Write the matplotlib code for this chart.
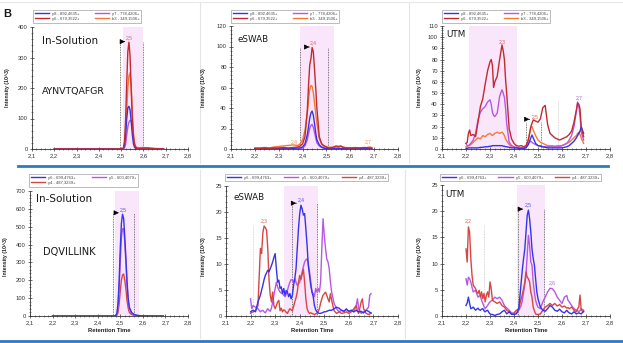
import matplotlib
matplotlib.use('Agg')
import matplotlib.pyplot as plt
from matplotlib.ticker import AutoMinorLocator
from matplotlib import font_manager
from matplotlib.lines import Line2D

# ---------------- data ----------------
xticks = [2.1, 2.2, 2.3, 2.4, 2.5, 2.6, 2.7, 2.8]
xtick_labels = ['2,1', '2,2', '2,3', '2,4', '2,5', '2,6', '2,7', '2,8']

top_labels = ['y8 - 892,4635+', 'y6 - 679,3522+', 'y7 - 778,4206+', 'b3 - 349,1506+']
bot_labels = ['y6 - 699,4763+', 'y5 - 600,4079+', 'y4 - 487,3239+']

# Panel 1: AYNVTQAFGR, In-Solution
x1 = [2.20, 2.25, 2.30, 2.35, 2.40, 2.45, 2.49, 2.50, 2.51, 2.515, 2.52, 2.525, 2.53,
      2.535, 2.54, 2.545, 2.55, 2.555, 2.56, 2.565, 2.57, 2.58, 2.60, 2.62, 2.65, 2.69]
p1_y8 = [0, 0, 0, 0, 0, 0, 0, 0.5, 2, 10, 45, 100, 135, 140, 128, 92, 48, 18, 6, 2, 1, 0.5, 0, 0, 0, 0]
p1_y6 = [0, 0, 0, 0, 0, 0, 0, 0.5, 3, 25, 95, 215, 320, 350, 305, 200, 100, 40, 15, 6, 3, 2, 3, 3, 1, 0]
p1_y7 = [0, 0, 0, 0, 0, 0, 0, 0, 1, 4, 16, 45, 73, 88, 94, 93, 70, 35, 12, 4, 2, 1, 0, 0, 0, 0]
p1_b3 = [0, 0, 0, 0, 0, 0, 0, 0.5, 2, 12, 50, 125, 200, 240, 250, 205, 125, 55, 20, 9, 5, 4, 5, 4, 2, 1]

# Panel 2: AYNVTQAFGR, eSWAB
x2 = [2.20, 2.22, 2.24, 2.26, 2.28, 2.30, 2.32, 2.34, 2.36, 2.38, 2.39, 2.40, 2.41, 2.42,
      2.425, 2.43, 2.435, 2.44, 2.445, 2.45, 2.455, 2.46, 2.47, 2.48, 2.49, 2.50, 2.51,
      2.52, 2.53, 2.54, 2.55, 2.56, 2.57, 2.58, 2.60, 2.62, 2.64, 2.66, 2.68, 2.69]
p2_y8 = [0.5, 0.5, 0.5, 0.5, 0.5, 0.5, 0.5, 0.5, 0.5, 1, 1, 2, 5, 14, 22, 30, 35, 37, 33, 25,
         16, 9, 4, 2, 1, 0.5, 0.5, 0.5, 0.5, 0.5, 0.5, 0.5, 0.5, 0.5, 0.5, 0.5, 0.5, 0.5, 0.5, 0.5]
p2_y6 = [0.5, 0.5, 1, 0.5, 1, 1, 1.5, 1, 1.5, 2, 3, 5, 12, 38, 62, 82, 88, 99, 95, 78,
         60, 40, 12, 5, 3, 2, 1, 1, 2, 3, 2.5, 3, 1.5, 1, 1, 1, 1, 1.5, 1, 1]
p2_y7 = [0.3, 0.3, 0.3, 0.3, 0.3, 0.3, 0.3, 0.3, 0.3, 0.3, 0.5, 1, 3, 9, 15, 20, 23, 24, 21, 16,
         11, 6, 3, 1.5, 0.8, 0.3, 0.3, 0.3, 0.3, 0.3, 0.3, 0.3, 0.3, 0.3, 0.3, 0.3, 0.3, 0.3, 0.3, 0.3]
p2_b3 = [1, 1, 1.5, 1, 2, 2.5, 3, 3.5, 4, 3.5, 5, 9, 18, 35, 48, 58, 62, 61, 55, 45,
         35, 25, 10, 5, 3, 2, 1.5, 2, 1, 2, 1.5, 2.5, 2, 1.5, 1, 1.5, 1, 1, 2, 1.5]

# Panel 3: AYNVTQAFGR, UTM
x3 = [2.20, 2.205, 2.21, 2.215, 2.22, 2.23, 2.24, 2.25, 2.26, 2.27, 2.28, 2.29, 2.30, 2.305,
      2.31, 2.315, 2.32, 2.33, 2.34, 2.35, 2.355, 2.36, 2.365, 2.37, 2.38, 2.39, 2.40, 2.41,
      2.42, 2.43, 2.44, 2.45, 2.46, 2.47, 2.475, 2.48, 2.49, 2.50, 2.51, 2.52, 2.53, 2.54,
      2.55, 2.56, 2.57, 2.58, 2.59, 2.60, 2.61, 2.62, 2.63, 2.64, 2.65, 2.66, 2.665, 2.67,
      2.675, 2.68, 2.69]
p3_y8 = [0.5, 0.5, 1, 1, 1, 1, 1, 1, 1.5, 1.5, 2, 2, 2.5, 2.5, 3, 3, 3, 3, 3, 3, 2.5, 2.5, 2, 2,
         1.5, 1, 1, 1, 0.5, 0.5, 0.5, 1, 4, 10, 12.5, 10, 5, 3, 2.5, 2, 1.5, 1, 1, 1, 1, 1, 1,
         1, 1.5, 2, 3, 5, 7, 10, 12, 14, 16, 20, 14]
p3_y6 = [5, 6, 14, 17, 12, 13, 11, 24, 38, 45, 58, 70, 78, 80, 75, 55, 60, 65, 80, 93, 88, 80,
         62, 48, 18, 9, 5, 3, 2.5, 3, 2, 3, 8, 20, 23, 26, 25, 24, 27, 37, 39, 22, 14, 12, 10, 9,
         8, 9, 10, 11, 13, 16, 24, 35, 41, 40, 36, 20, 11]
p3_y7 = [5, 3, 3, 4, 5, 8, 14, 26, 33, 36, 38, 42, 44, 40, 33, 30, 29, 32, 47, 53, 50, 46, 36,
         22, 6, 3, 2, 1.5, 1, 1, 1, 2, 5, 7, 6, 5, 4, 3, 3, 2, 2, 2, 2, 2, 2, 2, 2, 3, 4, 5, 8,
         12, 20, 34, 42, 38, 30, 15, 8]
p3_b3 = [2, 2, 3, 3, 4, 6, 8, 10, 9, 12, 11, 13, 14, 13, 12, 13, 14, 15, 14, 15, 14, 12, 9, 7,
         4, 2, 1.5, 1, 1, 1, 1, 2, 9, 19, 20, 17, 12, 8, 6, 5, 4, 3, 3, 3, 2.5, 3, 3, 3, 4, 5, 6,
         8, 10, 12, 14, 15, 13, 10, 5]

# Panel 4: DQVILLINK, In-Solution
x4 = [2.20, 2.25, 2.30, 2.35, 2.40, 2.45, 2.47, 2.48, 2.485, 2.49, 2.495, 2.50, 2.505, 2.51,
      2.515, 2.52, 2.525, 2.53, 2.535, 2.54, 2.55, 2.56, 2.57, 2.58, 2.60, 2.65, 2.69]
p4_y6 = [0, 0, 0, 0, 0, 0, 0, 3, 15, 70, 200, 380, 520, 570, 545, 440, 320, 190, 100, 50, 20,
         10, 5, 3, 1, 0, 0]
p4_y5 = [0, 0, 0, 0, 0, 0, 0, 2, 10, 50, 160, 310, 440, 488, 490, 410, 300, 170, 85, 40, 15,
         7, 3, 2, 1, 0, 0]
p4_y4 = [0, 0, 0, 0, 0, 0, 0, 1, 4, 20, 70, 140, 200, 230, 235, 200, 150, 85, 45, 20, 8, 4,
         2, 1, 0, 0, 0]

# Panel 5: DQVILLINK, eSWAB
x5 = [2.20, 2.205, 2.21, 2.22, 2.23, 2.24, 2.245, 2.25, 2.255, 2.26, 2.265, 2.27, 2.275, 2.28,
      2.285, 2.29, 2.295, 2.30, 2.305, 2.31, 2.315, 2.32, 2.325, 2.33, 2.335, 2.34, 2.345,
      2.35, 2.355, 2.36, 2.365, 2.37, 2.375, 2.38, 2.385, 2.39, 2.395, 2.40, 2.405, 2.41,
      2.415, 2.42, 2.425, 2.43, 2.435, 2.44, 2.445, 2.45, 2.455, 2.46, 2.465, 2.47, 2.475,
      2.48, 2.485, 2.49, 2.495, 2.50, 2.505, 2.51, 2.515, 2.52, 2.525, 2.53, 2.54, 2.55, 2.56,
      2.57, 2.58, 2.59, 2.60, 2.61, 2.62, 2.63, 2.635, 2.64, 2.65, 2.655, 2.66, 2.67, 2.68,
      2.685, 2.69]
p5_y6 = [0.8, 1, 1.1, 0.8, 2.7, 4, 5, 5.9, 7, 7.8, 8.3, 8.8, 8.5, 9.1, 9.7, 10.4, 11.3, 12,
         9.1, 6.5, 6.9, 5.3, 5.6, 4.3, 5.3, 4, 4.9, 4.6, 3.7, 4.3, 3.3, 4, 5.9, 7.2, 9.1, 13,
         16.8, 19.7, 21.3, 20.6, 19.4, 19.7, 16.8, 13.6, 9.7, 7.8, 5.9, 4.6, 3.7, 2, 1.2, 0.8,
         0.6, 0.5, 0.5, 0.6, 0.7, 0.8, 0.8, 0.9, 1, 1.1, 1.1, 1.1, 1.4, 1.7, 1.5, 1.1, 0.9,
         1.3, 0.9, 1.1, 0.8, 1.1, 0.9, 0.8, 0.9, 0.7, 0.6, 1.1, 0.9, 0.7, 0.6]
p5_y5 = [3.3, 1.4, 2, 1.7, 1.4, 0.8, 1, 1.1, 0.8, 0.6, 1, 1.4, 1.1, 0.9, 1.5, 2.7, 4, 5.3,
         6.5, 5.6, 5, 4.6, 4.4, 4.3, 4, 3.7, 4.2, 4.9, 5.8, 6.5, 7, 6.9, 6.5, 7.2, 6.5, 5.9,
         6.2, 6.5, 7.5, 8.5, 9.5, 10.4, 10.8, 11, 10, 8.5, 6.5, 4.6, 4.3, 3.7, 5.3, 4.6, 5.3,
         4.6, 6.5, 13, 18.7, 15.5, 13, 11, 10.4, 9.1, 6.5, 4.6, 2.4, 1.4, 0.8, 1.1, 0.9, 1.4,
         0.8, 1.1, 0.8, 2, 3.3, 1.4, 0.5, 0.7, 0.8, 1.1, 1.7, 4, 4.3]
p5_y4 = [0.5, 0.7, 0.8, 1, 2, 13, 12, 16, 17.3, 17, 16.5, 13, 7, 4, 2.7, 4.6, 2, 1.4, 2, 2.7,
         3, 1, 1.5, 0.8, 1.2, 1, 0.7, 0.5, 1, 1.4, 1.2, 1, 1.8, 2.7, 3.5, 4.6, 6.5, 7.8, 7,
         8, 9, 6.5, 3.3, 1.4, 0.8, 0.5, 0.6, 0.5, 0.4, 0.3, 0.4, 0.5, 0.8, 1.4, 2.5, 3.3, 4,
         4.3, 4.6, 4, 3.3, 2.7, 4.3, 3, 1, 0.5, 0.8, 0.5, 0.6, 0.8, 0.5, 0.8, 1.4, 2, 1, 0.5,
         2.7, 3.3, 1.4, 0.5, 0.3, 0.4, 0.5]

# Panel 6: DQVILLINK, UTM
x6 = [2.20, 2.205, 2.21, 2.215, 2.22, 2.225, 2.23, 2.24, 2.245, 2.25, 2.255, 2.26, 2.265, 2.27,
      2.275, 2.28, 2.285, 2.29, 2.295, 2.30, 2.305, 2.31, 2.32, 2.33, 2.34, 2.35, 2.36, 2.37,
      2.38, 2.39, 2.40, 2.41, 2.42, 2.43, 2.435, 2.44, 2.445, 2.45, 2.455, 2.46, 2.465, 2.47,
      2.475, 2.48, 2.485, 2.49, 2.495, 2.50, 2.51, 2.52, 2.53, 2.54, 2.55, 2.56, 2.57, 2.58,
      2.59, 2.60, 2.61, 2.62, 2.625, 2.63, 2.64, 2.65, 2.66, 2.665, 2.67, 2.675, 2.68, 2.69]
p6_y6 = [2, 2.5, 3.6, 2.4, 1.4, 1.5, 1.7, 1.1, 1.3, 1.5, 1.2, 1.1, 1.3, 1.4, 1, 0.8, 1, 1.1,
         0.7, 0.4, 0.3, 0.3, 0.1, 0.3, 0.4, 0.8, 1.1, 0.4, 0.8, 0.3, 0.3, 0.4, 1.4, 6.5, 9, 11,
         12.8, 16, 19.2, 20.2, 18.6, 16, 12.8, 11, 9.7, 7.1, 4.6, 3.3, 1.7, 1.1, 0.9, 1.4, 2,
         1.7, 1.1, 0.9, 1.3, 0.8, 0.6, 1.1, 0.8, 0.6, 0.4, 0.8, 0.4, 0.5, 0.6, 0.5, 0.4, 0.9]
p6_y5 = [7.1, 5.9, 7.4, 7.1, 6.5, 5.5, 4.6, 4.9, 4.2, 3.6, 3.8, 3.9, 3, 2.4, 1.8, 1.4, 1.7, 2,
         2.4, 2.7, 2.9, 3, 3.6, 3.3, 3.6, 3, 2, 1.5, 1.1, 0.6, 0.4, 0.6, 1.1, 2, 3, 4.6, 6, 7.8,
         11.6, 15.4, 13.5, 10.3, 9.7, 6.5, 4.5, 3, 2.2, 1.7, 1.4, 2.7, 3.6, 4.6, 5.3, 5.2, 4.6,
         3.6, 3, 2.4, 3.6, 3.9, 3, 2.7, 2, 1.4, 1.1, 1, 0.8, 1, 1.4, 1.1]
p6_y4 = [12.8, 10.3, 17, 16, 11, 7.8, 5.9, 5.2, 4.6, 4.3, 4.9, 3.6, 4.6, 3.3, 4.3, 2.7, 4, 4.6,
         3.6, 6.5, 5.2, 3, 2.7, 2.4, 2.7, 2, 1.7, 1.1, 0.8, 0.4, 0.6, 1.1, 1.4, 3.3, 4.2, 5.2,
         6.5, 8.4, 7.4, 7.1, 6.5, 4.6, 3.6, 1.7, 1, 0.4, 0.3, 0.3, 0.4, 1.1, 1.7, 2, 2.4, 2,
         2.4, 1.9, 2.2, 1.7, 1.9, 1.5, 1.6, 1.4, 1.7, 1.1, 0.8, 1.4, 1.7, 4, 1.1, 0.8]

yticks1 = [0, 100, 200, 300, 400]
yticks2 = [0, 20, 40, 60, 80, 100, 120]
yticks3 = [0, 10, 20, 30, 40, 50, 60, 70, 80, 90, 100, 110]
yticks4 = [0, 100, 200, 300, 400, 500, 600, 700]
yticks5 = [0, 5, 10, 15, 20, 25]
yticks6 = [0, 5, 10, 15, 20, 25]

# ---------------- style ----------------
BLUE = '#3434ec'
DRED = '#c22a30'
PURP = '#b658e4'
ORNG = '#f47a35'
RED = '#d84545'
PINK = '#fae6fa'

names = {f.name for f in font_manager.fontManager.ttflist}
NARROW = 'Liberation Sans Narrow' if 'Liberation Sans Narrow' in names else 'DejaVu Sans'
SCALE = 1.0 if NARROW == 'Liberation Sans Narrow' else 0.75
plt.rcParams['font.family'] = ['Liberation Sans', 'DejaVu Sans']

W, H = 623, 343
fig = plt.figure(figsize=(W / 100, H / 100), dpi=100)
fig.patch.set_facecolor('white')


def fx(px):
    return px / W


def fy(py):
    return 1 - py / H


def make_ax(l, r, t, b):
    return fig.add_axes([fx(l), fy(b), (r - l) / W, (b - t) / H])


def style(ax, yt):
    ax.set_xlim(2.1, 2.8)
    ax.set_ylim(0, yt[-1])
    ax.set_xticks(xticks)
    ax.set_xticklabels(xtick_labels)
    ax.set_yticks(yt)
    ax.xaxis.set_minor_locator(AutoMinorLocator(5))
    ax.yaxis.set_minor_locator(AutoMinorLocator(5))
    for s in ['top', 'right']:
        ax.spines[s].set_visible(False)
    for s in ['left', 'bottom']:
        ax.spines[s].set_linewidth(0.6)
        ax.spines[s].set_color('#333333')
    ax.tick_params(which='major', direction='inout', length=3, width=0.5,
                   labelsize=4.2, pad=1.5, colors='#333333')
    ax.tick_params(which='minor', direction='inout', length=1.6, width=0.4, colors='#333333')
    ax.set_facecolor('none')


def ylabel(px, py):
    fig.text(fx(px), fy(py), 'Intensity (10^3)', rotation=90, fontsize=3.8,
             fontweight='bold', ha='center', va='center', color='#222222')


def xlabel(ax):
    ax.set_xlabel('Retention Time', fontsize=4.2, fontweight='bold', labelpad=2, color='#222222')


def legend(ax, colors, labels, ncol, left, top, colsp):
    hs = [Line2D([], [], color=c, lw=1.0) for c in colors]
    leg = ax.legend(hs, labels, ncol=ncol, loc='upper left',
                    bbox_to_anchor=(fx(left), fy(top)), bbox_transform=fig.transFigure,
                    fontsize=3.0, frameon=True, fancybox=False, borderpad=0.4,
                    borderaxespad=0, handlelength=3.4, handletextpad=0.8,
                    columnspacing=colsp, labelspacing=0.3)
    leg.get_frame().set_edgecolor('#8a8a8a')
    leg.get_frame().set_linewidth(0.5)
    for t in leg.get_texts():
        t.set_color('#444444')


def dotted(ax, xs, h, color='#555555'):
    ax.vlines(xs, 0, h, colors=color, linestyles=(0, (1, 1)), lw=0.6, zorder=1)


def arrow(ax, x0, x1, y):
    ax.annotate('', xy=(x1, y), xytext=(x0, y),
                arrowprops=dict(arrowstyle='-|>,head_length=0.6,head_width=0.3',
                                mutation_scale=5, color='black', lw=0.5))


def plabel(ax, x, y, s, c):
    ax.text(x, y, s, fontsize=3.6, color=c, ha='center', va='bottom')


def big(px, py, s, size):
    fig.text(fx(px), fy(py), s, fontsize=size * SCALE, family=[NARROW, 'DejaVu Sans'],
             ha='left', va='baseline', color='#1a1a1a')


LW = 1.0

# ---- Panel 1 ----
ax = make_ax(32, 188, 27, 149)
style(ax, yticks1)
ax.axvspan(2.51, 2.6, color=PINK, lw=0, zorder=0)
dotted(ax, [2.497, 2.6], 350)
ax.plot(x1, p1_y7, color=PURP, lw=LW)
ax.plot(x1, p1_b3, color=ORNG, lw=LW)
ax.plot(x1, p1_y8, color=BLUE, lw=LW)
ax.plot(x1, p1_y6, color=DRED, lw=LW)
plabel(ax, 2.537, 356, '2,5', '#e06060')
arrow(ax, 2.499, 2.53, 352)
legend(ax, [BLUE, DRED, PURP, ORNG], top_labels, 2, 33, 10, 3.6)
ylabel(8, 88)

# ---- Panel 2 ----
ax = make_ax(231, 398, 26, 149)
style(ax, yticks2)
ax.axvspan(2.39, 2.53, color=PINK, lw=0, zorder=0)
dotted(ax, [2.388, 2.505], 98.5)
ax.plot(x2, p2_y7, color=PURP, lw=LW)
ax.plot(x2, p2_b3, color=ORNG, lw=LW)
ax.plot(x2, p2_y8, color=BLUE, lw=LW)
ax.plot(x2, p2_y6, color=DRED, lw=LW)
plabel(ax, 2.445, 101, '2,4', '#e06060')
plabel(ax, 2.367, 4.5, '2,4', '#f08a5a')
plabel(ax, 2.673, 4.5, '2,7', '#f08a5a')
arrow(ax, 2.415, 2.44, 99.5)
legend(ax, [BLUE, DRED, PURP, ORNG], top_labels, 2, 231, 10, 3.6)
ylabel(203, 88)

# ---- Panel 3 ----
ax = make_ax(442, 610, 26, 149)
style(ax, yticks3)
ax.axvspan(2.2125, 2.4125, color=PINK, lw=0, zorder=0)
dotted(ax, [2.449, 2.511], 24.4)
dotted(ax, [2.583], 43, color='#cccccc')
ax.plot(x3, p3_b3, color=ORNG, lw=LW)
ax.plot(x3, p3_y7, color=PURP, lw=LW)
ax.plot(x3, p3_y8, color=BLUE, lw=LW)
ax.plot(x3, p3_y6, color=DRED, lw=LW)
plabel(ax, 2.349, 94, '2,3', '#e06060')
plabel(ax, 2.4875, 26.5, '2,5', '#e06060')
plabel(ax, 2.672, 44, '2,7', PURP)
arrow(ax, 2.452, 2.476, 26.6)
legend(ax, [BLUE, DRED, PURP, ORNG], top_labels, 2, 442, 10, 3.6)
ylabel(419, 88)

# ---- Panel 4 ----
ax = make_ax(30, 188, 191, 316)
style(ax, yticks4)
ax.axvspan(2.477, 2.585, color=PINK, lw=0, zorder=0)
dotted(ax, [2.468, 2.561], 578)
ax.plot(x4, p4_y4, color=RED, lw=LW)
ax.plot(x4, p4_y5, color=PURP, lw=LW)
ax.plot(x4, p4_y6, color=BLUE, lw=LW)
plabel(ax, 2.511, 582, '2,5', '#5050f0')
arrow(ax, 2.47, 2.494, 578)
legend(ax, [BLUE, RED, PURP], [bot_labels[0], bot_labels[2], bot_labels[1]], 2, 29, 174, 3.8)
xlabel(ax)
ylabel(6, 257)

# ---- Panel 5 ----
ax = make_ax(226, 398, 186, 316)
style(ax, yticks5)
ax.axvspan(2.336, 2.474, color=PINK, lw=0, zorder=0)
dotted(ax, [2.37, 2.472], 21.7)
dotted(ax, [2.211], 17.5, color='#cccccc')
ax.plot(x5, p5_y5, color=PURP, lw=LW)
ax.plot(x5, p5_y4, color=RED, lw=LW)
ax.plot(x5, p5_y6, color=BLUE, lw=LW)
plabel(ax, 2.256, 17.8, '2,3', '#e06060')
plabel(ax, 2.408, 21.9, '2,4', '#5050f0')
arrow(ax, 2.374, 2.397, 21.7)
legend(ax, [BLUE, PURP, RED], bot_labels, 3, 225, 174, 3.0)
xlabel(ax)
ylabel(203, 257)

# ---- Panel 6 ----
ax = make_ax(442, 610, 185, 316)
style(ax, yticks6)
ax.axvspan(2.413, 2.528, color=PINK, lw=0, zorder=0)
dotted(ax, [2.418, 2.526], 20.4)
dotted(ax, [2.275], 17.4, color='#cccccc')
ax.plot(x6, p6_y5, color=PURP, lw=LW)
ax.plot(x6, p6_y4, color=RED, lw=LW)
ax.plot(x6, p6_y6, color=BLUE, lw=LW)
plabel(ax, 2.21, 17.7, '2,2', '#e06060')
plabel(ax, 2.46, 20.8, '2,5', '#5050f0')
plabel(ax, 2.561, 5.8, '2,6', PURP)
arrow(ax, 2.42, 2.449, 20.4)
legend(ax, [BLUE, PURP, RED], bot_labels, 3, 440, 174, 2.8)
xlabel(ax)
ylabel(420, 257)

# ---- big text labels ----
big(42, 44.5, 'In-Solution', 10)
big(42, 94, 'AYNVTQAFGR', 9)
big(238, 41.5, 'eSWAB', 8.4)
big(446, 37.3, 'UTM', 8.4)
big(36, 202.3, 'In-Solution', 10)
big(43, 255, 'DQVILLINK', 9.5)
big(233, 200, 'eSWAB', 8.4)
big(445, 197.3, 'UTM', 8.4)
fig.text(fx(3.5), fy(16.7), 'B', fontsize=8, fontweight='bold', ha='left', va='baseline',
         color='#1a1a1a')

# ---- separators ----
fig.add_artist(Line2D([fx(18), fx(608)], [fy(166), fy(166)], color='#2b7bc4', lw=2.0))
fig.add_artist(Line2D([0, 1], [fy(341), fy(341)], color='#2b7bc4', lw=2.0))
for xp in (200, 409):
    fig.add_artist(Line2D([fx(xp), fx(xp)], [fy(2), fy(163)], color='#e4e4e4', lw=0.8))
for xp in (200, 405):
    fig.add_artist(Line2D([fx(xp), fx(xp)], [fy(170), fy(338)], color='#e4e4e4', lw=0.8))
fig.add_artist(Line2D([fx(0), fx(623)], [fy(1.5), fy(1.5)], color='#e8e8e8', lw=0.8))

fig.savefig('out.png', dpi=100)
